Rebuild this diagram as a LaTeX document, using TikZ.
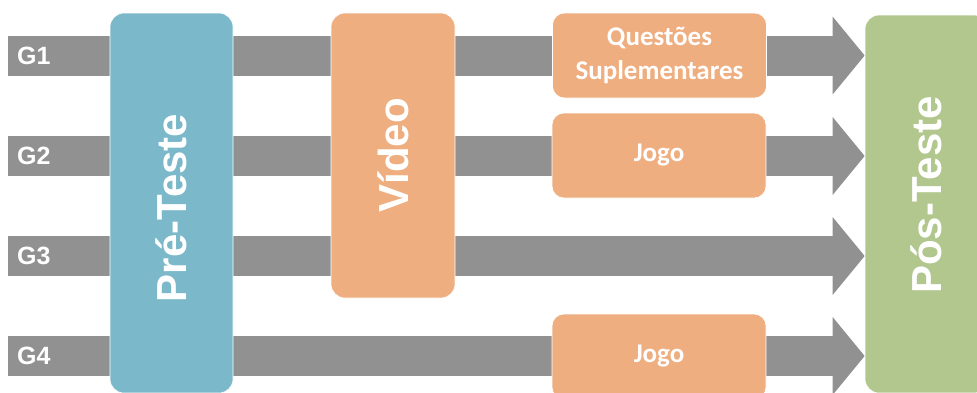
\documentclass[tikz,border=0pt]{standalone}
\usepackage{fontspec}
\setmainfont{Liberation Sans}
\newfontfamily\stepfont{Carlito}
\usetikzlibrary{arrows.meta,positioning,backgrounds}

\definecolor{bandgray}{HTML}{919191}
\definecolor{preblue}{HTML}{7BB9CA}
\definecolor{midorange}{HTML}{EEAE80}
\definecolor{postgreen}{HTML}{B2C78D}

\begin{document}
\begin{tikzpicture}[x=1pt, y=-1pt,
    band/.style={draw=bandgray, line width=40pt,
        -{Triangle[length=32pt, width=76pt]}},
    group/.style={text=white, inner sep=0pt,
        font=\bfseries\fontsize{25}{25}\selectfont},
    stage/.style={rounded corners=14pt, inner sep=0pt, draw=white,
        line width=0.6pt, minimum width=123pt},
    stagetext/.style={rotate=90, text=white, inner sep=0pt,
        font=\bfseries\fontsize{42}{42}\selectfont},
    task/.style={fill=midorange, rounded corners=12pt, draw=white,
        line width=0.6pt, minimum width=214pt, minimum height=85pt,
        text=white, align=center,
        font=\stepfont\bfseries\fontsize{27}{34}\selectfont},
]
\useasboundingbox (0,0) rectangle (977,392);

% stages
\node[stage, fill=preblue, minimum height=380pt] (pre) at (171.5,203) {};
\node[stage, fill=midorange, minimum width=124pt, minimum height=285pt] (video) at (393,155.5) {};
\node[stage, fill=postgreen, minimum height=378pt] (post) at (926.5,204) {};
\node[stagetext] (pretext) at ([yshift=-5pt]pre) {Pré-Teste};
\node[stagetext] (videotext) at (video) {Vídeo};
\node[stagetext] (posttext) at ([yshift=9pt]post) {Pós-Teste};

% extra tasks
\node[task] (extra) at (659.5,55.5) {Questões\\Suplementares};
\node[task] (game2) at (659,155.5) {Jogo};
\node[task] (game4) at (659,356.5) {Jogo};

% groups
\foreach \g/\y in {1/55.5, 2/156, 3/256, 4/356} {
    \coordinate (s\g) at (8,\y);
    \node[group, right=9pt of s\g] (g\g) {G\g};
}

\begin{pgfonlayer}{background}
    \foreach \g in {1,...,4}
        \draw[band] (s\g) -- (s\g -| post.west);
\end{pgfonlayer}
\end{tikzpicture}
\end{document}
